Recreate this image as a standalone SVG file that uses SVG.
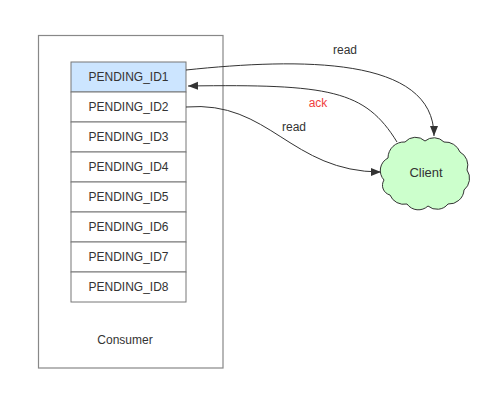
<svg xmlns="http://www.w3.org/2000/svg" width="498" height="403" viewBox="0 0 498 403">
<defs>
<marker id="arr" markerWidth="11" markerHeight="9" refX="10" refY="4" orient="auto" markerUnits="userSpaceOnUse"><path d="M0,0 L10,4 L0,8 z" fill="#333"/></marker>
<style>
text{font-family:"Liberation Sans",Arial,sans-serif;font-size:12px;fill:#333;text-anchor:middle}
.cell{fill:#fff;stroke:#777;stroke-width:1}
.conn{fill:none;stroke:#333;stroke-width:1;marker-end:url(#arr)}
</style>
</defs>
<rect width="498" height="403" fill="#fff"/>
<g id="consumer">
<rect x="38.5" y="35.5" width="184.5" height="332.5" fill="#fff" stroke="#888" stroke-width="1.2"/>
<text x="125" y="344">Consumer</text>
</g>
<g id="pending1"><rect class="cell" x="71" y="62" width="115" height="30" style="fill:#cce5ff"/><text x="128.5" y="81">PENDING_ID1</text></g>
<g id="pending2"><rect class="cell" x="71" y="92" width="115" height="30"/><text x="128.5" y="111">PENDING_ID2</text></g>
<g id="pending3"><rect class="cell" x="71" y="122" width="115" height="30"/><text x="128.5" y="141">PENDING_ID3</text></g>
<g id="pending4"><rect class="cell" x="71" y="152" width="115" height="30"/><text x="128.5" y="171">PENDING_ID4</text></g>
<g id="pending5"><rect class="cell" x="71" y="182" width="115" height="30"/><text x="128.5" y="201">PENDING_ID5</text></g>
<g id="pending6"><rect class="cell" x="71" y="212" width="115" height="30"/><text x="128.5" y="231">PENDING_ID6</text></g>
<g id="pending7"><rect class="cell" x="71" y="242" width="115" height="30"/><text x="128.5" y="261">PENDING_ID7</text></g>
<g id="pending8"><rect class="cell" x="71" y="272" width="115" height="30"/><text x="128.5" y="291">PENDING_ID8</text></g>
<g id="client">
<path d="M384,180 A14,14 0 0 1 388,158 A16,16 0 0 1 405,142 A14,14 0 0 1 425,141 A14,14 0 0 1 444,142 A16,16 0 0 1 460,152 A15,15 0 0 1 467,170 A15,15 0 0 1 464,190 A15,15 0 0 1 448,204 A14,14 0 0 1 428,206 A14,14 0 0 1 407,204 A15,15 0 0 1 390,195 A10,10 0 0 1 384,180 Z" fill="#ccffcc" stroke="#333" stroke-width="1"/>
<text x="426" y="177" style="font-size:13px">Client</text>
</g>
<g id="connectors">
<path class="conn" d="M186,70 C300,58 434,56 434,136"/>
<path class="conn" d="M397,142 C365,90 330,84 188,86"/>
<path class="conn" d="M186,107 C270,100 290,172 381,172"/>
<text x="345" y="54">read</text>
<text x="318" y="107" style="fill:#f04040">ack</text>
<text x="294" y="131">read</text>
</g>
</svg>
